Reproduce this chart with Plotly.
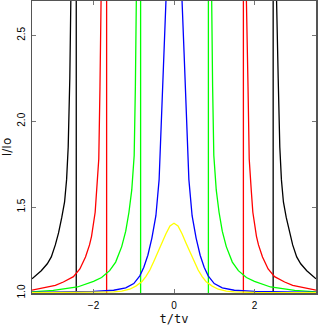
import plotly.graph_objects as go

# ---- data (right-hand branch, t >= 0; left branch mirrored) ----
yellow_t = [0.0, 0.1, 0.2, 0.3, 0.4, 0.5, 0.6, 0.7, 0.8, 0.95, 1.1, 1.3, 1.5, 2.0, 2.5, 3.0, 3.53]
yellow_v = [1.406, 1.39, 1.345, 1.29, 1.24, 1.185, 1.134, 1.095, 1.066, 1.04, 1.022, 1.011, 1.006, 1.003, 1.002, 1.002, 1.002]

blue_t = [0.0, 0.15, 0.2, 0.25, 0.3, 0.37, 0.45, 0.55, 0.65, 0.75, 0.85, 1.0, 1.2, 1.5, 2.0, 2.5, 3.0, 3.53]
blue_v = [5.0, 3.3, 2.70, 2.40, 2.12, 1.66, 1.45, 1.32, 1.22, 1.15, 1.10, 1.055, 1.03, 1.016, 1.009, 1.006, 1.004, 1.003]

green_t = [0.90, 0.93, 0.96, 0.99, 1.05, 1.12, 1.2, 1.3, 1.45, 1.6, 1.8, 2.0, 2.4, 3.0, 3.53]
green_v = [3.5, 2.70, 2.20, 1.80, 1.60, 1.47, 1.36, 1.27, 1.18, 1.13, 1.09, 1.068, 1.035, 1.015, 1.007]
green_vline = [-0.83, 0.855]

red_t = [1.77, 1.80, 1.84, 1.87, 1.92, 1.96, 2.05, 2.1, 2.2, 2.34, 2.5, 2.75, 2.95, 3.24, 3.53]
red_v = [3.5, 2.70, 2.20, 1.78, 1.60, 1.47, 1.33, 1.28, 1.21, 1.14, 1.095, 1.064, 1.045, 1.03, 1.017]
red_vline = [-1.675, 1.725]

black_t = [2.52, 2.55, 2.59, 2.63, 2.67, 2.72, 2.79, 2.87, 2.95, 3.05, 3.15, 3.3, 3.41, 3.53]
black_v = [3.5, 2.70, 2.25, 1.85, 1.66, 1.53, 1.44, 1.35, 1.28, 1.21, 1.17, 1.13, 1.105, 1.083]
black_vline = [-2.43, 2.465]

off_top = 3.5   # beyond the plotted range (curve runs off the top)
off_bottom = 0.9  # below the plotted range

x_ticks = [-2, 0, 2]
x_labels = ["\u22122", "0", "2"]
y_ticks = [1.0, 1.5, 2.0, 2.5]
y_labels = ["1.0", "1.5", "2.0", "2.5"]


def mirrored(t, v, vline=None):
    xs = [-a for a in reversed(t)]
    ys = list(reversed(v))
    if vline is None:
        xs += t[1:] if t[0] == 0 else t
        ys += v[1:] if t[0] == 0 else v
    else:
        xs += [vline[0], vline[0], vline[1], vline[1]] + t
        ys += [off_top, off_bottom, off_bottom, off_top] + v
    return xs, ys


fig = go.Figure()
for t, v, vl, col in [
    (black_t, black_v, black_vline, "#000000"),
    (red_t, red_v, red_vline, "#ff0000"),
    (green_t, green_v, green_vline, "#00ff00"),
    (blue_t, blue_v, None, "#0000ff"),
    (yellow_t, yellow_v, None, "#ffff00"),
]:
    xs, ys = mirrored(t, v, vl)
    fig.add_trace(go.Scatter(x=xs, y=ys, mode="lines",
                             line=dict(color=col, width=1.3), showlegend=False,
                             hoverinfo="skip"))

tick_font = dict(family="Liberation Sans, Arial, sans-serif", size=10, color="#000")
fig.update_layout(
    width=318, height=327,
    margin=dict(l=32, r=2, t=1, b=34, autoexpand=False),
    paper_bgcolor="white", plot_bgcolor="white",
    font=tick_font,
)
fig.update_xaxes(
    range=[-3.53, 3.53], tickvals=x_ticks, ticktext=x_labels, automargin=False,
    showgrid=False, zeroline=False,
    showline=True, linecolor="#555", linewidth=1.5, mirror="ticks",
    ticks="inside", ticklen=4, tickcolor="#777", tickwidth=1,
    tickfont=tick_font, ticklabelstandoff=2,
    title=dict(text="t/tv", font=dict(family="DejaVu Sans Mono, monospace", size=12, color="#111"),
               standoff=5),
)
fig.update_yaxes(
    range=[1.0, 2.70], tickvals=y_ticks, ticktext=y_labels, automargin=False,
    showgrid=False, zeroline=False,
    showline=True, linecolor="#555", linewidth=1.5, mirror="ticks",
    ticks="inside", ticklen=4, tickcolor="#777", tickwidth=1, tickangle=-90,
    tickfont=tick_font, ticklabelstandoff=2,
    title=dict(text="I/Io", font=dict(family="DejaVu Sans, sans-serif", size=12, color="#111"),
               standoff=3),
)
fig.write_html("out.html", config={"displayModeBar": False, "staticPlot": True},
               post_script="document.body.style.margin='0';document.body.style.padding='0';")
